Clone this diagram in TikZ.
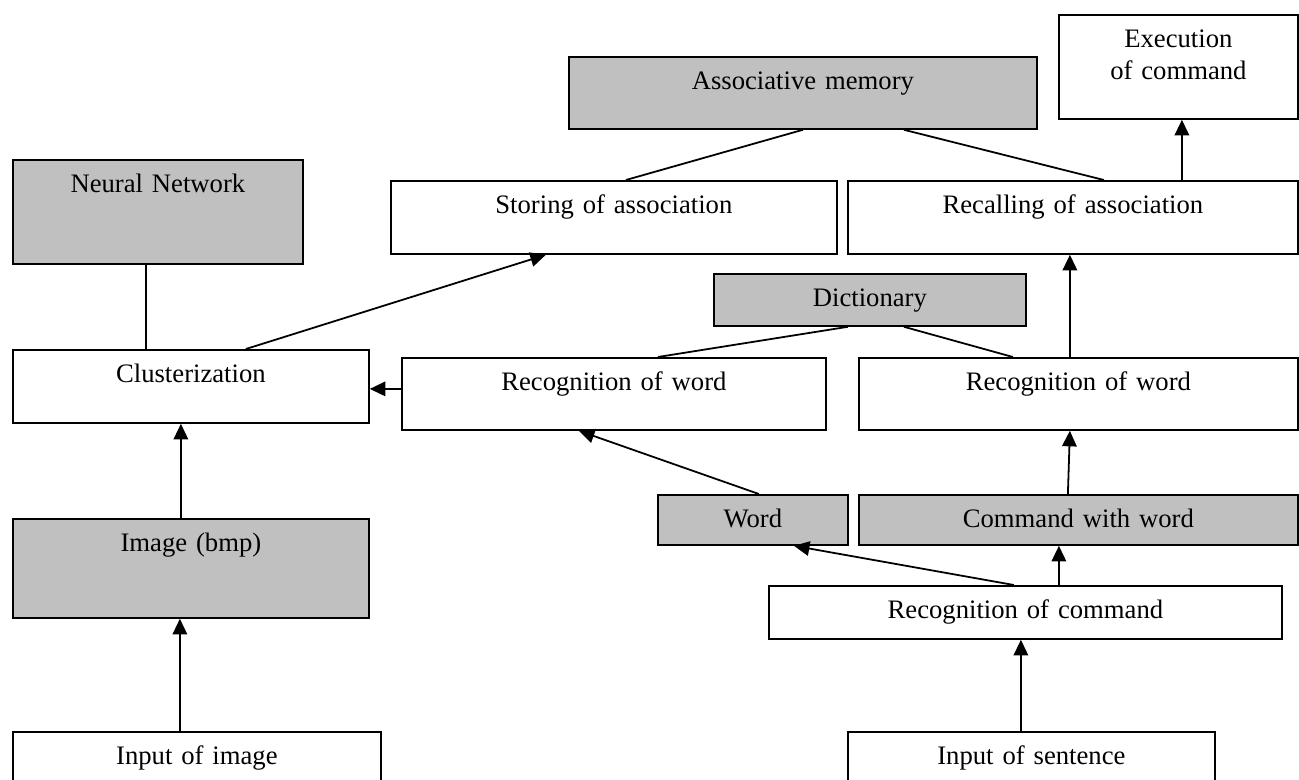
\documentclass[tikz,border=0pt]{standalone}
\usepackage{fontspec}
\setmainfont{Liberation Serif}
\usetikzlibrary{arrows.meta, calc}
\newlength\px
\setlength\px{0.45pt}
\definecolor{boxgray}{RGB}{192,192,192}
\tikzset{>={Triangle[length=7pt,width=6.5pt]}}

\begin{document}
\begin{tikzpicture}[x=0.45pt,y=-0.45pt,line width=0.8pt,
    blk/.style 2 args={draw, anchor=north west, inner sep=0pt, text width=#1*\px, align=center,
        text height=33*\px, text depth=(#2-33)*\px, font=\fontsize{12}{14.4}\selectfont},
    gblk/.style 2 args={blk={#1}{#2}, fill=boxgray}]
    \useasboundingbox (0,0) rectangle (1299,779);
    \clip (0,0) rectangle (1299,779);

    \node[gblk={468}{72}] (am) at (568,56) {Associative memory};
    \node[blk={239}{104}] (ex) at (1058,14) {Execution\\of command};
    \node[gblk={290}{104}] (nn) at (12,159) {Neural Network};
    \node[blk={446}{73}] (st) at (390,180) {Storing of association};
    \node[blk={450}{73}] (rc) at (847,180) {Recalling of association};
    \node[gblk={312}{52}] (di) at (713,273) {Dictionary};
    \node[blk={356}{73}] (cl) at (12,349) {Clusterization};
    \node[blk={424}{72}] (rwl) at (401,357) {Recognition of word};
    \node[blk={439}{72}] (rwr) at (858,357) {Recognition of word};
    \node[gblk={190}{50}] (wd) at (657,494) {Word};
    \node[gblk={439}{50}] (cw) at (858,494) {Command with word};
    \node[gblk={356}{99}] (im) at (12,518) {Image (bmp)};
    \node[blk={513}{53}] (rcm) at (768,585) {Recognition of command};
    \node[blk={368}{80}] (ii) at (12,731) {Input of image};
    \node[blk={367}{80}] (is) at (847,731) {Input of sentence};

    % memories
    \draw ([xshift=-12*\px]nn.south) -- ([xshift=-45*\px]cl.north);
    \draw (am.south) -- ([xshift=12*\px]st.north);
    \draw ([xshift=101*\px]am.south) -- ([xshift=31*\px]rc.north);
    \draw ([xshift=-22*\px]di.south) -- ([xshift=44*\px]rwl.north);
    \draw ([xshift=34*\px]di.south) -- ([xshift=-65.5*\px]rwr.north);

    % flow
    \draw[->] ([xshift=55*\px]cl.north) -- ([xshift=-68*\px]st.south);
    \draw[->] ([xshift=109*\px]rc.north) -- ([xshift=3.5*\px]ex.south);
    \draw[->] ([xshift=-8.5*\px]rwr.north) -- ([xshift=-3*\px]rc.south);
    \draw[->] ([yshift=-2.5*\px]cl.east -| rwl.west) -- ([yshift=-2.5*\px]cl.east);
    \draw[->] ([xshift=6*\px]wd.north) -- ([xshift=-35*\px]rwl.south);
    \draw[->] ([xshift=-11.5*\px]rcm.north) -- ([xshift=41*\px]wd.south);
    \draw[->] ([xshift=33.5*\px]rcm.north) -- ([xshift=-19.5*\px]cw.south);
    \draw[->] ([xshift=-10.5*\px]cw.north) -- ([xshift=-8.5*\px]rwr.south);
    \draw[->] ([xshift=-10.5*\px]is.north) -- ([xshift=-4.5*\px]rcm.south);
    \draw[->] ([xshift=-10*\px]im.north) -- ([xshift=-10*\px]cl.south);
    \draw[->] ([xshift=-17*\px]ii.north) -- ([xshift=-11*\px]im.south);
\end{tikzpicture}
\end{document}
